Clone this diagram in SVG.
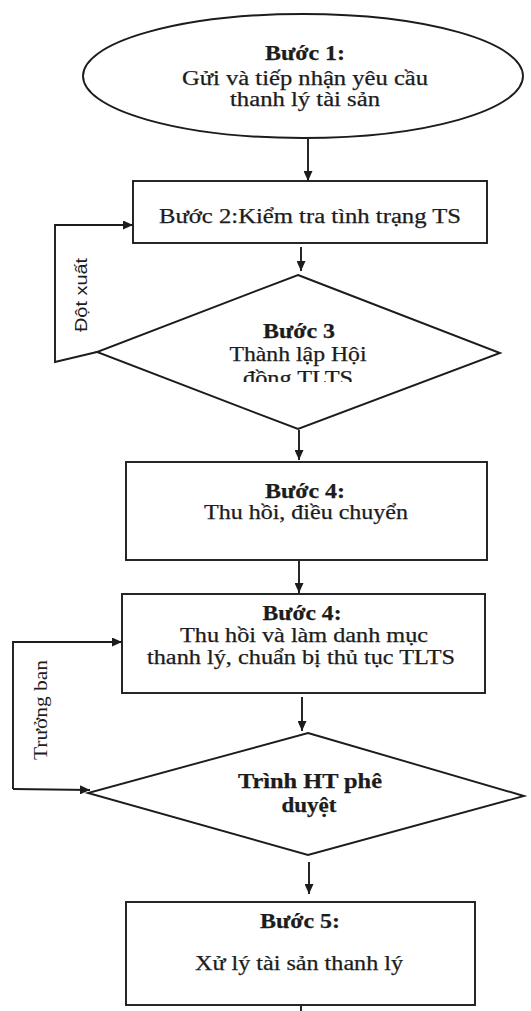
<svg xmlns="http://www.w3.org/2000/svg" width="531" height="1011" viewBox="0 0 531 1011">
  <style>
    .shape { fill: #ffffff; stroke: #1c1c1c; stroke-width: 1.9; }
    .wire { fill: none; stroke: #1c1c1c; stroke-width: 1.9; }
    .t { font-family: "Liberation Serif", "Times New Roman", serif; font-size: 20px; fill: #1c1c1c; stroke: #1c1c1c; stroke-width: 0.25; text-anchor: middle; }
    .b { font-weight: bold; }
    .side { font-family: "Liberation Sans", Arial, sans-serif; font-size: 17px; fill: #1c1c1c; text-anchor: middle; }
    .sideserif { font-family: "Liberation Serif", "Times New Roman", serif; font-size: 19px; fill: #1c1c1c; text-anchor: middle; }
  </style>
  <defs>
    <marker id="arrow" markerUnits="userSpaceOnUse" markerWidth="11" markerHeight="9" refX="10" refY="4.5" orient="auto">
      <path d="M0,0 L10,4.5 L0,9 z" fill="#1c1c1c"/>
    </marker>
    <clipPath id="clip-step3">
      <rect x="90" y="270" width="420" height="112"/>
    </clipPath>
  </defs>

  <rect width="531" height="1011" fill="#ffffff"/>

  <!-- connectors -->
  <g id="connectors">
    <line class="wire" x1="308" y1="139" x2="308" y2="181" marker-end="url(#arrow)"/>
    <line class="wire" x1="301" y1="247" x2="301" y2="271" marker-end="url(#arrow)"/>
    <polyline class="wire" points="97,352 55,362 55,225 133,225" marker-end="url(#arrow)"/>
    <line class="wire" x1="299" y1="430" x2="299" y2="460" marker-end="url(#arrow)"/>
    <line class="wire" x1="299" y1="561" x2="299" y2="593" marker-end="url(#arrow)"/>
    <polyline class="wire" points="13,789 13,642 122,642" marker-end="url(#arrow)"/>
    <line class="wire" x1="13" y1="789" x2="90" y2="790" marker-end="url(#arrow)"/>
    <line class="wire" x1="302" y1="697" x2="302" y2="731" marker-end="url(#arrow)"/>
    <line class="wire" x1="309" y1="862" x2="309" y2="894" marker-end="url(#arrow)"/>
    <line class="wire" x1="301" y1="1006" x2="301" y2="1011"/>
    <text class="side" transform="translate(87,295) rotate(-90)" textLength="74" lengthAdjust="spacingAndGlyphs">Đột xuất</text>
    <text class="sideserif" transform="translate(47,710) rotate(-90)" textLength="100" lengthAdjust="spacingAndGlyphs">Trưởng ban</text>
  </g>

  <!-- step 1: request -->
  <g id="step1">
    <ellipse class="shape" cx="303" cy="76" rx="220" ry="62"/>
    <text class="t b" x="305" y="60" textLength="80" lengthAdjust="spacingAndGlyphs">Bước 1:</text>
    <text class="t" x="305" y="85" textLength="246" lengthAdjust="spacingAndGlyphs">Gửi và tiếp nhận yêu cầu</text>
    <text class="t" x="305" y="106" textLength="150" lengthAdjust="spacingAndGlyphs">thanh lý tài sản</text>
  </g>

  <!-- step 2: inspection -->
  <g id="step2">
    <rect class="shape" x="133" y="181" width="354" height="62"/>
    <text class="t" x="310" y="223" textLength="302" lengthAdjust="spacingAndGlyphs">Bước 2:Kiểm tra tình trạng TS</text>
  </g>

  <!-- step 3: council -->
  <g id="step3">
    <polygon class="shape" points="298,275 500,353 298,429 97,352"/>
    <text class="t b" x="299" y="338" textLength="72" lengthAdjust="spacingAndGlyphs">Bước 3</text>
    <text class="t" x="298" y="361" textLength="137" lengthAdjust="spacingAndGlyphs">Thành lập Hội</text>
    <text class="t" x="298" y="385" textLength="110" lengthAdjust="spacingAndGlyphs" clip-path="url(#clip-step3)">đồng TLTS</text>
  </g>

  <!-- step 4: recovery / transfer -->
  <g id="step4a">
    <rect class="shape" x="126" y="462" width="361" height="98"/>
    <text class="t b" x="305" y="498" textLength="80" lengthAdjust="spacingAndGlyphs">Bước 4:</text>
    <text class="t" x="306" y="519" textLength="204" lengthAdjust="spacingAndGlyphs">Thu hồi, điều chuyển</text>
  </g>

  <!-- step 4: listing and paperwork -->
  <g id="step4b">
    <rect class="shape" x="122" y="594" width="363" height="99"/>
    <text class="t b" x="302" y="620" textLength="79" lengthAdjust="spacingAndGlyphs">Bước 4:</text>
    <text class="t" x="304" y="642" textLength="248" lengthAdjust="spacingAndGlyphs">Thu hồi và làm danh mục</text>
    <text class="t" x="301" y="664" textLength="308" lengthAdjust="spacingAndGlyphs">thanh lý, chuẩn bị thủ tục TLTS</text>
  </g>

  <!-- approval -->
  <g id="approval">
    <polygon class="shape" points="308,733 524,796 308,855 88,793"/>
    <text class="t b" x="310" y="788" textLength="144" lengthAdjust="spacingAndGlyphs">Trình HT phê</text>
    <text class="t b" x="309" y="812" textLength="55" lengthAdjust="spacingAndGlyphs">duyệt</text>
  </g>

  <!-- step 5: disposal -->
  <g id="step5">
    <rect class="shape" x="126" y="902" width="349" height="103"/>
    <text class="t b" x="300" y="928" textLength="80" lengthAdjust="spacingAndGlyphs">Bước 5:</text>
    <text class="t" x="299" y="970" textLength="208" lengthAdjust="spacingAndGlyphs">Xử lý tài sản thanh lý</text>
  </g>
</svg>
